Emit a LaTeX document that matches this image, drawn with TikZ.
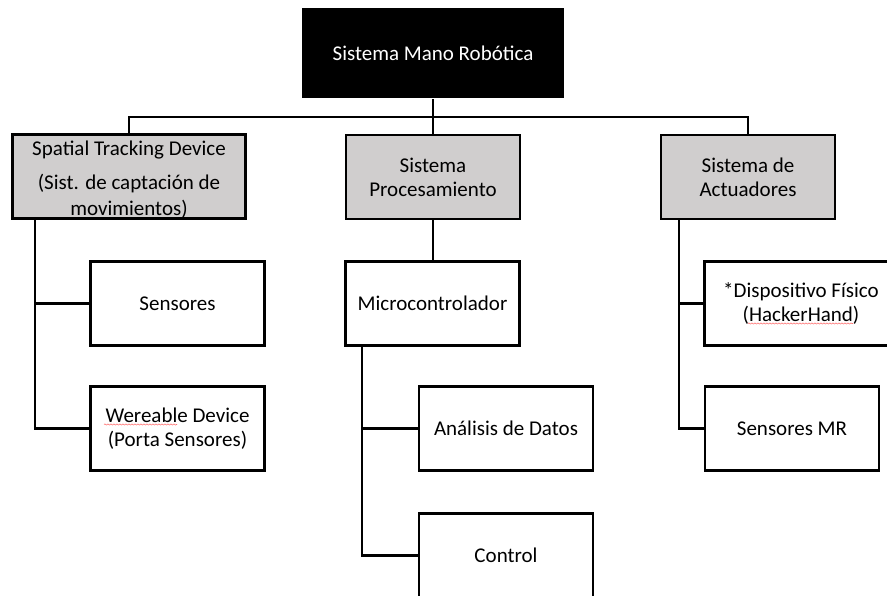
\documentclass[tikz,border=0pt]{standalone}
\usepackage{fontspec}
\setmainfont{Carlito}
\usetikzlibrary{decorations.pathmorphing}
\definecolor{boxgray}{RGB}{208,206,206}
\begin{document}
\begin{tikzpicture}[x=1pt,y=-1pt,
  box/.style={draw=black, line width=2.8pt, minimum width=174pt, minimum height=84pt,
    inner sep=0pt, align=center, font=\fontsize{21}{24}\selectfont, text=black, fill=white},
  greybox/.style={box, fill=boxgray},
  plaintext/.style={inner sep=0pt, align=center, font=\fontsize{21}{26}\selectfont, text=black},
  link/.style={line width=2.2pt},
  squig/.style={draw=red!55, line width=0.6pt, decorate,
    decoration={snake, amplitude=0.6pt, segment length=3pt}}
]
\useasboundingbox (0,0) rectangle (887,596);
% level 0
\node[box, fill=black, draw=none, text=white, minimum width=262pt, minimum height=90pt] (top) at (433,53) {Sistema Mano Robótica};
% level 1
\node[greybox, minimum width=233pt] (S) at (129,176.5) {};
\node[plaintext] (Stxt) at ([yshift=-3pt]S.center) {Spatial Tracking Device\\[8pt](Sist. de captación de\\movimientos)};
\node[greybox] (P) at (433,177) {Sistema\\Procesamiento};
\node[greybox] (A) at (748,177) {Sistema de\\Actuadores};
% level 2
\node[box] (Sen) at (177.5,303.5) {Sensores};
\node[box] (Wer) at (177.5,428.5) {Wereable Device\\(Porta Sensores)};
\node[box] (Mic) at (432.5,303.5) {Microcontrolador};
\node[box] (Ana) at (506,428.5) {Análisis de Datos};
\node[box] (Con) at (506,555.5) {Control};
\node[box, minimum width=193pt] (Dis) at (801,303.5) {*Dispositivo Físico\\(HackerHand)};
\node[box] (SMR) at (792,428.5) {Sensores MR};
% connectors
\draw[link] (top.south) -- ++(0,18) -| (S.north);
\draw[link] (top.south) -- (top.south |- P.north);
\draw[link] (top.south) -- ++(0,18) -| (A.north);
\draw[link] ([xshift=24pt]S.south west) |- (Sen.west);
\draw[link] ([xshift=24pt]S.south west) |- (Wer.west);
\draw[link] (P.south) -- (P.south |- Mic.north);
\draw[link] ([xshift=18pt]Mic.south west) |- (Ana.west);
\draw[link] ([xshift=18pt]Mic.south west) |- (Con.west);
\draw[link] ([xshift=19pt]A.south west) |- (Dis.west);
\draw[link] ([xshift=19pt]A.south west) |- (SMR.west);
% spell-check underlines
\draw[squig] (104,424.5) -- (177,424.5);
\draw[squig] (748,323.5) -- (853,323.5);
\end{tikzpicture}
\end{document}
